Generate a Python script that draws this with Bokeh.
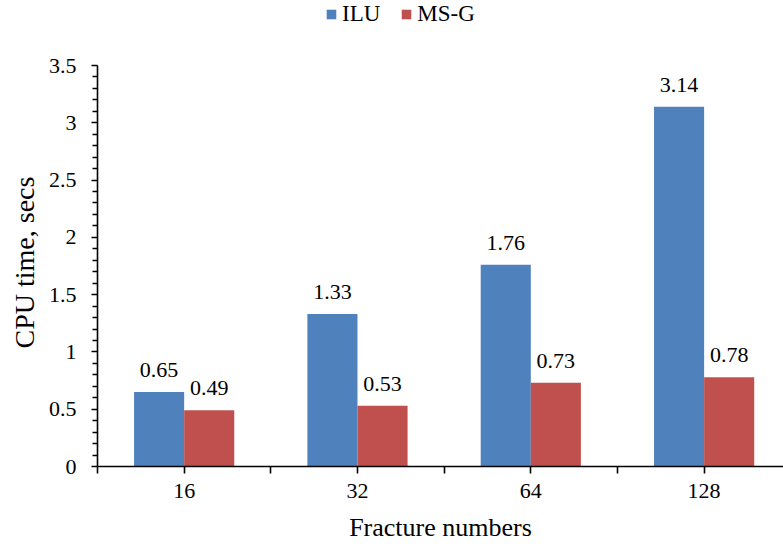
from bokeh.plotting import figure
from bokeh.models import (Range1d, FixedTicker, Legend, LegendItem,
                          ColumnDataSource, Title)
from bokeh.transform import dodge
from bokeh.core.properties import value
from bokeh.embed import file_html
from bokeh.resources import INLINE

# CPU time (secs) per number of fractures, for the two preconditioners
fractures = ["16", "32", "64", "128"]
ilu = [0.65, 1.33, 1.76, 3.14]
msg = [0.49, 0.53, 0.73, 0.78]
y_ticks = [0, 0.5, 1, 1.5, 2, 2.5, 3, 3.5]

FONT = "Liberation Serif"
BLUE = "#4F81BD"
RED = "#C0504D"
BAR_W = 0.289
Y_MAX = 3.5
# the plot area runs up to the top edge so the legend can sit above the axis
Y_TOP = Y_MAX * 466 / 401

centers = [i + 0.5 for i in range(len(fractures))]
src = ColumnDataSource(dict(
    x=centers,
    ilu=ilu,
    msg=msg,
    ilu_lbl=[f"{v:g}" for v in ilu],
    msg_lbl=[f"{v:g}" for v in msg],
))

p = figure(width=783, height=546,
           x_range=Range1d(0, 3.958), y_range=Range1d(0, Y_TOP),
           output_backend="svg", toolbar_location=None,
           min_border_left=97, min_border_right=0,
           min_border_top=0, min_border_bottom=80)
p.outline_line_color = None
p.grid.visible = False
p.background_fill_color = "white"
p.border_fill_color = "white"

r_ilu = p.vbar(x=dodge("x", -BAR_W / 2, range=p.x_range), top="ilu",
               width=BAR_W, source=src, fill_color=BLUE, line_color=None)
r_msg = p.vbar(x=dodge("x", BAR_W / 2, range=p.x_range), top="msg",
               width=BAR_W, source=src, fill_color=RED, line_color=None)

# value labels above each bar
for col, lbl, off in (("ilu", "ilu_lbl", -BAR_W / 2), ("msg", "msg_lbl", BAR_W / 2)):
    p.text(x=dodge("x", off, range=p.x_range), y=col, text=lbl, source=src,
           text_font=value(FONT), text_font_size="22px", text_color="black",
           text_align="center", text_baseline="alphabetic", y_offset=-22)

# x axis: labels at category centres, tick marks also at category boundaries
xa = p.xaxis[0]
xa.ticker = FixedTicker(ticks=centers, minor_ticks=[0, 1, 2, 3])
xa.major_label_overrides = {c: f for c, f in zip(centers, fractures)}
xa.axis_label = "Fracture numbers"

ya = p.yaxis[0]
ya.bounds = (0, Y_MAX)
ya.ticker = FixedTicker(ticks=y_ticks,
                        minor_ticks=[0.1, 0.2, 0.3, 0.4, 0.6, 0.7, 0.8, 0.9,
                                     1.1, 1.2, 1.3, 1.4, 1.6, 1.7, 1.8, 1.9,
                                     2.1, 2.2, 2.3, 2.4, 2.6, 2.7, 2.8, 2.9,
                                     3.1, 3.2, 3.3, 3.4])
ya.major_label_overrides = {t: f"{t:g}" for t in y_ticks}

for ax in (xa, ya):
    ax.axis_line_color = "black"
    ax.axis_line_width = 1.6
    ax.major_tick_line_color = "black"
    ax.minor_tick_line_color = "black"
    ax.major_tick_line_width = 1.6
    ax.minor_tick_line_width = 1.6
    ax.major_tick_in = 0
    ax.major_tick_out = 6
    ax.minor_tick_in = 0
    ax.major_label_text_font = FONT
    ax.major_label_text_font_size = "22px"
    ax.major_label_text_color = "black"

xa.axis_label_text_font = FONT
xa.axis_label_text_font_style = "normal"
xa.axis_label_text_color = "black"
xa.axis_label_text_font_size = "26px"
xa.major_tick_out = 7
xa.minor_tick_out = 7
ya.minor_tick_out = 5
xa.major_label_standoff = 10
ya.major_label_standoff = 15
xa.axis_label_standoff = 12

# y title, centred on the 0 - 3.5 span of the axis
y_title = Title(text="CPU time, secs", align="left", offset=118,
                vertical_align="middle", standoff=10,
                text_font=FONT, text_font_size="28px",
                text_font_style="normal", text_color="black")
p.add_layout(y_title, "left")

legend = Legend(items=[LegendItem(label="ILU", renderers=[r_ilu]),
                       LegendItem(label="MS-G", renderers=[r_msg])],
                location=(228, 439), orientation="horizontal",
                padding=0, spacing=20, label_standoff=5,
                glyph_width=12, glyph_height=12,
                label_text_font=FONT, label_text_font_size="23px",
                label_text_color="black",
                border_line_color=None, background_fill_alpha=0)
p.add_layout(legend, "center")

open("out.html", "w").write(file_html(p, INLINE))
